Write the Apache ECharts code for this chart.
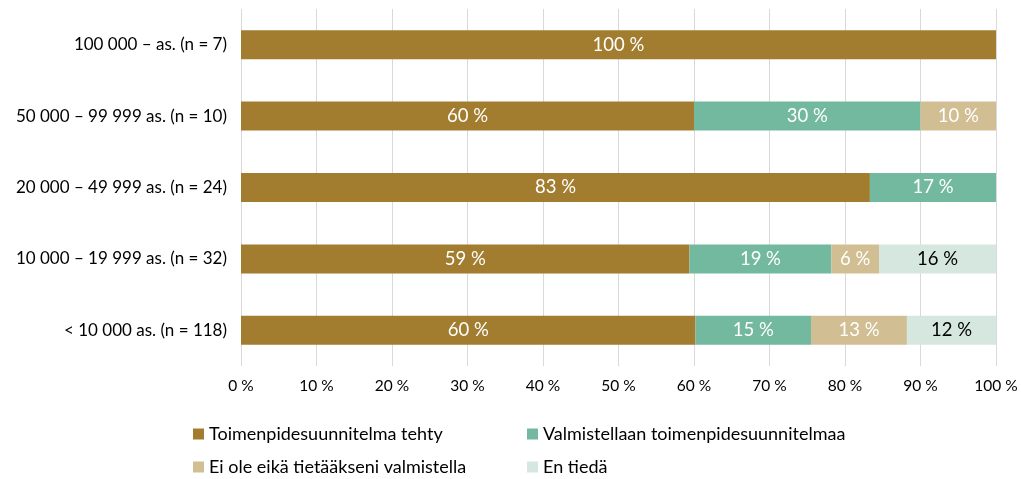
<!DOCTYPE html>
<html>
<head>
<meta charset="utf-8">
<script src="https://cdn.jsdelivr.net/npm/echarts@6/dist/echarts.min.js"></script>
<style>
  html, body { margin: 0; padding: 0; background: #fff; }
  #main { width: 1021px; height: 479px; }
</style>
</head>
<body>
<div id="main"></div>
<script>
// categories, bottom to top (yAxis category order)
const categories = ['< 10 000 as. (n = 118)', '10 000 – 19 999 as. (n = 32)', '20 000 – 49 999 as. (n = 24)', '50 000 – 99 999 as. (n = 10)', '100 000 – as. (n = 7)'];
const seriesNames = ['Toimenpidesuunnitelma tehty', 'Valmistellaan toimenpidesuunnitelmaa', 'Ei ole eikä tietääkseni valmistella', 'En tiedä'];
const tehty = [60.2, 59.4, 83.3, 60, 100];
const valmistellaan = [15.3, 18.8, 16.7, 30, 0];
const eiOle = [12.7, 6.3, 0, 10, 0];
const enTieda = [11.9, 15.6, 0, 0, 0];
const xTicks = [0, 10, 20, 30, 40, 50, 60, 70, 80, 90, 100];

const colors = ['#A27D2F', '#72B9A0', '#D1BE93', '#D6E7DF'];
const labelColors = ['#fff', '#fff', '#fff', '#000'];
const FONT = 'Lato';

let myChart = echarts.init(document.getElementById('main'));

function makeSeries(name, data, i) {
  return {
    name: name,
    type: 'bar',
    stack: 'total',
    barWidth: 29,
    data: data,
    itemStyle: { color: colors[i] },
    label: {
      show: true,
      position: 'inside',
      color: labelColors[i],
      fontFamily: FONT,
      fontSize: 18.5,
      formatter: function (p) {
        return p.value > 0 ? Math.round(p.value) + ' %' : '';
      }
    }
  };
}

// one legend per item, laid out in a 2x2 grid
function makeLegend(name, left, top) {
  return {
    left: left,
    top: top,
    itemWidth: 11,
    itemHeight: 11,
    itemGap: 4,
    icon: 'rect',
    data: [name],
    textStyle: { color: '#000', fontFamily: FONT, fontSize: 18 }
  };
}

let option = {
  animation: false,
  color: colors,
  grid: {
    left: 241,
    right: 25,
    top: 9,
    bottom: 113
  },
  xAxis: {
    type: 'value',
    min: 0,
    max: 100,
    interval: 10,
    axisLine: { show: false },
    axisTick: { show: false },
    splitLine: { lineStyle: { color: '#D9D9D9', width: 1 } },
    axisLabel: {
      color: '#000',
      fontFamily: FONT,
      fontSize: 15.5,
      margin: 12,
      formatter: function (v) { return xTicks.indexOf(v) >= 0 ? v + ' %' : ''; }
    }
  },
  yAxis: {
    type: 'category',
    data: categories,
    axisLine: { show: false },
    axisTick: { show: false },
    axisLabel: {
      color: '#000',
      fontFamily: FONT,
      fontSize: 17,
      margin: 14
    }
  },
  legend: [
    makeLegend(seriesNames[0], 188, 420),
    makeLegend(seriesNames[1], 522, 420),
    makeLegend(seriesNames[2], 188, 453),
    makeLegend(seriesNames[3], 522, 453)
  ],
  series: [
    makeSeries(seriesNames[0], tehty, 0),
    makeSeries(seriesNames[1], valmistellaan, 1),
    makeSeries(seriesNames[2], eiOle, 2),
    makeSeries(seriesNames[3], enTieda, 3)
  ]
};
myChart.setOption(option);
</script>
</body>
</html>
